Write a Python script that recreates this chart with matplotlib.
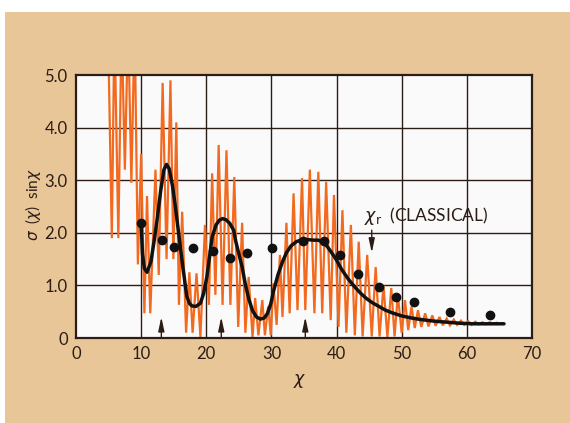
import matplotlib.pyplot as plt
from matplotlib.patches import Rectangle

plt.rcParams["font.family"] = ["Lato", "DejaVu Sans"]
plt.rcParams["mathtext.fontset"] = "dejavusans"

# quantum cross section (orange zigzag vertices)
quantum_x = [4.9, 5.5, 5.9, 6.5, 7.0, 7.5, 8.0, 8.5, 9.0, 9.5, 10.0, 10.5, 10.9, 11.4,
             12.2, 12.7, 13.3, 13.9, 14.5, 14.95, 15.4, 15.8, 16.3, 16.9, 17.4, 17.9,
             18.5, 19.1, 19.8, 20.4, 20.9, 21.4, 21.9, 22.5, 23.1, 23.7, 24.3, 24.9,
             25.5, 26.0, 26.5, 27.1, 27.5, 28.0, 28.6, 29.0, 29.5, 29.9, 30.3, 30.8,
             31.3, 31.7, 32.3, 32.8, 33.4, 34.0, 34.7, 35.2, 35.9, 36.6, 37.2, 37.8,
             38.4, 39.1, 39.6, 40.3, 40.9, 41.5, 42.2, 42.8, 43.4, 44.0, 44.7, 45.4,
             46.0, 46.6, 47.2, 47.8, 48.4, 48.9, 49.4, 50.0, 50.5, 51.0, 51.5, 52.0,
             52.5, 53.0, 53.6, 54.1, 54.7, 55.2, 55.8, 56.3, 56.9, 57.4, 58.0, 58.5,
             59.1, 59.6, 60.2, 60.7, 61.3, 61.8, 62.4, 62.9, 63.5, 64.0, 64.6, 65.1, 65.6]
quantum_y = [6.0, 1.9, 6.0, 1.9, 6.0, 3.2, 6.0, 2.95, 6.0, 1.4, 3.5, 0.47, 2.7, 0.47,
             3.2, 1.2, 4.85, 1.5, 4.9, 1.5, 4.1, 0.63, 2.4, 0.1, 1.25, 0.1,
             1.23, 0.02, 2.15, 0.63, 3.13, 0.82, 3.67, 0.63, 3.57, 0.63, 3.06, 0.21,
             2.19, 0.1, 1.16, 0.02, 0.76, 0.05, 0.72, 0.05, 0.6, 0.05, 1.04, 0.25,
             1.58, 0.4, 2.19, 0.47, 2.75, 0.53, 3.04, 0.53, 3.2, 0.47, 3.16, 0.47,
             2.97, 0.34, 2.72, 0.21, 2.43, 0.1, 2.15, 0.05, 1.83, 0.03, 1.58, 0.03,
             1.35, 0.03, 1.0, 0.02, 0.95, 0.03, 0.82, 0.1, 0.72, 0.15, 0.6, 0.19,
             0.53, 0.21, 0.47, 0.22, 0.43, 0.23, 0.4, 0.24, 0.37, 0.24, 0.35, 0.25,
             0.33, 0.25, 0.32, 0.25, 0.31, 0.26, 0.3, 0.26, 0.3, 0.27, 0.29, 0.27, 0.28]

# smoothed (black) curve
smooth_x = [10.0, 10.2, 10.5, 10.9, 11.5, 12.0, 12.5, 13.0, 13.5, 13.9, 14.3, 14.8,
            15.2, 15.8, 16.4, 17.0, 17.4, 17.8, 18.4, 19.1, 19.6, 20.1, 20.5, 20.9,
            21.5, 22.0, 22.5, 23.0, 23.6, 24.2, 24.5, 25.0, 25.5, 26.0, 26.5, 27.1,
            27.7, 28.3, 28.9, 29.4, 29.9, 30.3, 31.0, 31.7, 32.3, 33.0, 33.8, 34.7,
            35.6, 36.5, 37.2, 37.9, 38.5, 39.2, 40.0, 40.8, 41.8, 42.8, 43.7, 44.6,
            45.5, 46.5, 47.5, 48.5, 50.0, 51.5, 53.0, 55.0, 57.0, 59.0, 61.0, 63.0, 65.7]
smooth_y = [2.2, 1.6, 1.32, 1.25, 1.45, 1.85, 2.3, 2.8, 3.2, 3.3, 3.22, 2.9,
            2.55, 1.95, 1.35, 0.8, 0.66, 0.61, 0.6, 0.66, 0.85, 1.17, 1.55, 1.92,
            2.15, 2.24, 2.27, 2.25, 2.18, 2.05, 1.85, 1.6, 1.35, 1.02, 0.75, 0.52,
            0.4, 0.36, 0.38, 0.47, 0.65, 0.88, 1.2, 1.45, 1.62, 1.75, 1.83, 1.87,
            1.87, 1.86, 1.86, 1.82, 1.75, 1.63, 1.48, 1.3, 1.12, 0.97, 0.85, 0.75,
            0.67, 0.6, 0.53, 0.48, 0.42, 0.38, 0.35, 0.32, 0.3, 0.28, 0.27, 0.27, 0.27]

# measured points
dots_x = [10.0, 13.2, 15.0, 18.0, 21.1, 23.7, 26.3, 30.1, 34.8, 38.0, 40.5, 43.3,
          46.5, 49.1, 51.9, 57.4, 63.5]
dots_y = [2.19, 1.86, 1.73, 1.71, 1.65, 1.52, 1.62, 1.71, 1.84, 1.84, 1.58, 1.22,
          0.97, 0.78, 0.69, 0.49, 0.44]

up_arrows_x = [13.1, 22.3, 35.2]
classical_x = 45.4

x_ticks = [0, 10, 20, 30, 40, 50, 60, 70]
y_ticks = [0, 1, 2, 3, 4, 5]
y_ticklabels = ["0", "1.0", "2.0", "3.0", "4.0", "5.0"]

ink = "#2b1d16"
orange = "#f26a1f"

fig = plt.figure(figsize=(5.7, 4.23), dpi=100)
fig.patch.set_facecolor("white")
fig.add_artist(Rectangle((5 / 570, 0), 1, (423 - 12) / 423, transform=fig.transFigure,
                         facecolor="#e9c698", edgecolor="none", zorder=0))

ax = fig.add_axes([76 / 570, 1 - 338 / 423, 456 / 570, 263 / 423])
ax.set_facecolor("#fbfafa")
ax.set_xlim(0, 70)
ax.set_ylim(0, 5)

for gx in x_ticks[1:-1]:
    ax.axvline(gx, color=ink, lw=1.0, zorder=1)
for gy in y_ticks[1:-1]:
    ax.axhline(gy, color=ink, lw=1.0, zorder=1)

ax.plot(quantum_x, quantum_y, color=orange, lw=1.6, zorder=2, solid_joinstyle="miter")
ax.plot(smooth_x, smooth_y, color="#111111", lw=2.5, zorder=3, solid_capstyle="round")
ax.plot(dots_x, dots_y, "o", color="#111111", markersize=6, zorder=4)

arrow_style = dict(arrowstyle="-|>,head_length=0.7,head_width=0.15", color=ink, lw=1.0,
                   mutation_scale=12, shrinkA=0, shrinkB=0)
for xa in up_arrows_x:
    ax.annotate("", xy=(xa, 0.4), xytext=(xa, 0.0), arrowprops=arrow_style, zorder=5)
ax.annotate("", xy=(classical_x, 1.62), xytext=(classical_x, 2.05),
            arrowprops=arrow_style, zorder=5)
ax.text(44.2, 2.32, r"$\chi_{\mathrm{r}}$  (CLASSICAL)", color=ink, fontsize=12.5,
        ha="left", va="center", zorder=5)

ax.set_xticks(x_ticks)
ax.set_yticks(y_ticks)
ax.set_yticklabels(y_ticklabels)
ax.tick_params(length=0, labelsize=12, colors=ink, pad=6)
for s in ax.spines.values():
    s.set_linewidth(1.6)
    s.set_color(ink)
    s.set_zorder(6)

fig.text(300 / 570, 1 - 381 / 423, r"$\chi$", color=ink, fontsize=12.5, ha="center", va="center")
fig.text(33 / 570, 1 - 205 / 423, r"$\sigma$  ($\chi$)  sin$\chi$", color=ink, fontsize=11,
         rotation=90, ha="center", va="center")

fig.savefig("out.png", dpi=100)
